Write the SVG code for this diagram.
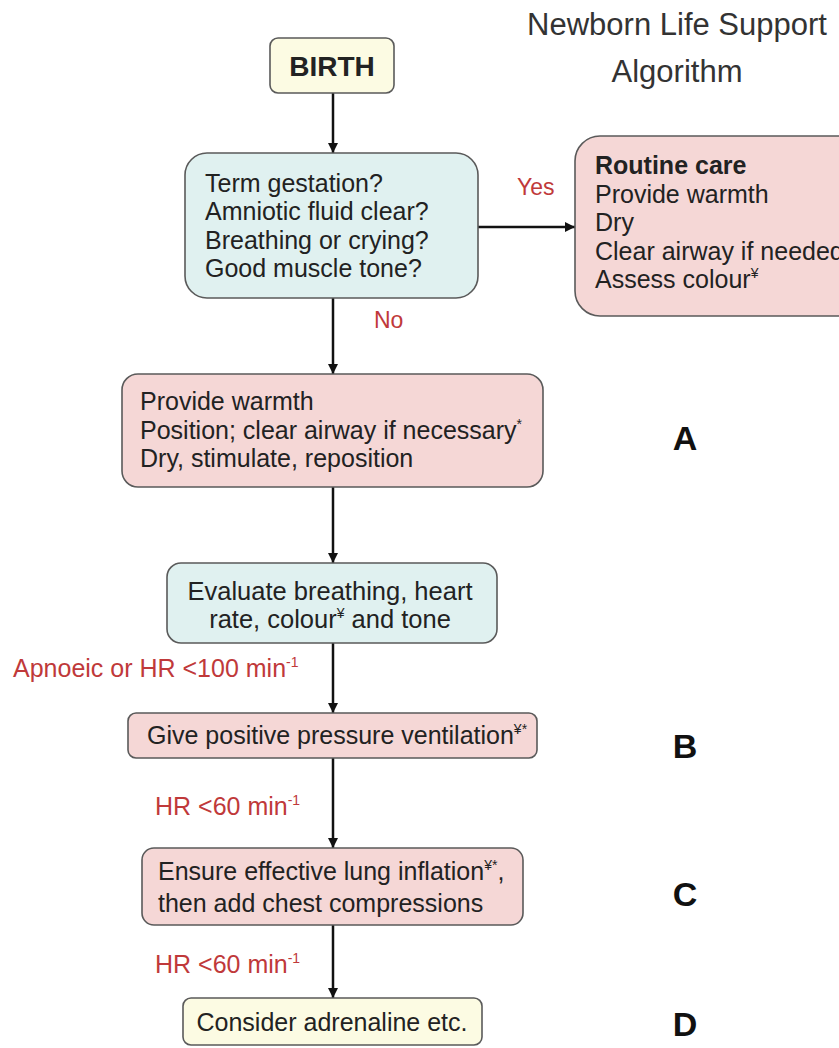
<svg xmlns="http://www.w3.org/2000/svg" width="839" height="1048" viewBox="0 0 839 1048">
<defs>
<style>
.box{stroke:#5a5a5a;stroke-width:1.6}
.blue{fill:#e0f1f0}
.pink{fill:#f5d7d6}
.yellow{fill:#fcfbe3}
.t{font-family:"Liberation Sans",Arial,sans-serif;font-size:25px;fill:#222}
.b{font-weight:bold}
.red{font-family:"Liberation Sans",Arial,sans-serif;font-size:25px;fill:#c0393a}
.letter{font-family:"Liberation Sans",Arial,sans-serif;font-size:34px;font-weight:bold;fill:#111;text-anchor:middle}
.title{font-family:"Liberation Sans",Arial,sans-serif;font-size:31px;fill:#333;text-anchor:middle}
.sup{font-size:14px}
.conn{stroke:#111;stroke-width:2.5;fill:none;marker-end:url(#arr)}
</style>
<marker id="arr" viewBox="0 0 10 10" refX="10" refY="5" markerWidth="4" markerHeight="4" orient="auto" markerUnits="strokeWidth">
<path d="M0,0 L10,5 L0,10 z" fill="#111"/>
</marker>
</defs>
<rect width="839" height="1048" fill="#fff"/>

<g id="title">
<text class="title" x="677" y="35">Newborn Life Support</text>
<text class="title" x="677" y="82">Algorithm</text>
</g>

<g id="connectors">
<line class="conn" x1="333" y1="93" x2="333" y2="153"/>
<line class="conn" x1="478" y1="227" x2="575" y2="227"/>
<line class="conn" x1="333" y1="298" x2="333" y2="374"/>
<line class="conn" x1="333" y1="487" x2="333" y2="563"/>
<line class="conn" x1="333" y1="643" x2="333" y2="713"/>
<line class="conn" x1="333" y1="758" x2="333" y2="848"/>
<line class="conn" x1="333" y1="925" x2="333" y2="998"/>
<text class="red" x="517" y="195" style="font-size:23px">Yes</text>
<text class="red" x="374" y="328" style="font-size:23px">No</text>
<text class="red" x="13" y="677">Apnoeic or HR &lt;100 min<tspan class="sup" dy="-10">-1</tspan></text>
<text class="red" x="155" y="815">HR &lt;60 min<tspan class="sup" dy="-10">-1</tspan></text>
<text class="red" x="155" y="973">HR &lt;60 min<tspan class="sup" dy="-10">-1</tspan></text>
</g>

<g id="birth">
<rect class="box yellow" x="270" y="38" width="124" height="55" rx="8"/>
<text class="t b" x="332" y="76" text-anchor="middle" style="font-size:28px">BIRTH</text>
</g>

<g id="assess">
<rect class="box blue" x="185" y="153" width="293" height="145" rx="22"/>
<text class="t" x="205" y="192">Term gestation?</text>
<text class="t" x="205" y="220">Amniotic fluid clear?</text>
<text class="t" x="205" y="249">Breathing or crying?</text>
<text class="t" x="205" y="277">Good muscle tone?</text>
</g>

<g id="routine">
<rect class="box pink" x="575" y="136" width="290" height="180" rx="25"/>
<text class="t b" x="595" y="174">Routine care</text>
<text class="t" x="595" y="203">Provide warmth</text>
<text class="t" x="595" y="231">Dry</text>
<text class="t" x="595" y="260">Clear airway if needed</text>
<text class="t" x="595" y="288">Assess colour<tspan class="sup" dy="-10">¥</tspan></text>
</g>

<g id="stepA">
<rect class="box pink" x="122" y="374" width="421" height="113" rx="16"/>
<text class="t" x="140" y="410">Provide warmth</text>
<text class="t" x="140" y="439">Position; clear airway if necessary<tspan class="sup" dy="-10">*</tspan></text>
<text class="t" x="140" y="467">Dry, stimulate, reposition</text>
</g>

<g id="evaluate">
<rect class="box blue" x="167" y="563" width="330" height="80" rx="14"/>
<text class="t" x="330" y="600" text-anchor="middle" style="font-size:25.5px">Evaluate breathing, heart</text>
<text class="t" x="330" y="628" text-anchor="middle" style="font-size:25.5px">rate, colour<tspan class="sup" dy="-10">¥</tspan><tspan dy="10"> and tone</tspan></text>
</g>

<g id="stepB">
<rect class="box pink" x="128" y="713" width="409" height="45" rx="8"/>
<text class="t" x="147" y="744">Give positive pressure ventilation<tspan class="sup" dy="-10">¥*</tspan></text>
</g>

<g id="stepC">
<rect class="box pink" x="142" y="848" width="381" height="77" rx="12"/>
<text class="t" x="158" y="880">Ensure effective lung inflation<tspan class="sup" dy="-10">¥*</tspan><tspan dy="10">,</tspan></text>
<text class="t" x="158" y="912">then add chest compressions</text>
</g>

<g id="stepD">
<rect class="box yellow" x="183" y="998" width="299" height="47" rx="8"/>
<text class="t" x="332" y="1031" text-anchor="middle">Consider adrenaline etc.</text>
</g>

<g id="letters">
<text class="letter" x="685" y="450">A</text>
<text class="letter" x="685" y="758">B</text>
<text class="letter" x="685" y="906">C</text>
<text class="letter" x="685" y="1036">D</text>
</g>
</svg>
